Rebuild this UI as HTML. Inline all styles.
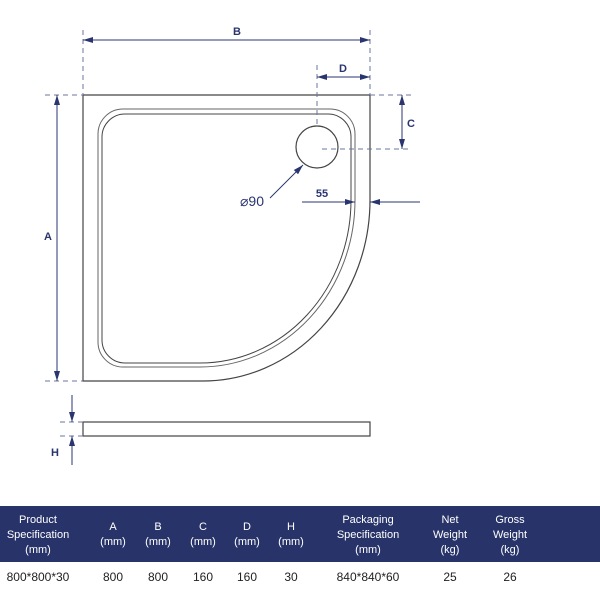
<!DOCTYPE html>
<html><head><style>
body{margin:0;background:#fff;width:600px;height:600px;overflow:hidden;font-family:"Liberation Sans",sans-serif;}
</style></head><body>
<svg width="600" height="600" viewBox="0 0 600 600" xmlns="http://www.w3.org/2000/svg" style="position:absolute;left:0;top:0">
<defs>
<marker id="ar" viewBox="0 0 10 6" refX="10" refY="3" markerWidth="14" markerHeight="6" markerUnits="userSpaceOnUse" orient="auto"><path d="M0,0 L10,3 L0,6 Z" fill="#2a3570"/></marker>
</defs>
<g fill="none" stroke="#444" stroke-width="1.2">
<path d="M83,95 H370 V200 A167,181 0 0 1 203,381 H83 Z"/>
<path d="M98,134 A25,25 0 0 1 123,109 H330 A25,25 0 0 1 355,134 V200 A155,167 0 0 1 200,367 H123 A25,25 0 0 1 98,342 Z" stroke="#666" stroke-width="1"/>
<path d="M102,137 A23,23 0 0 1 125,114 H328 A23,23 0 0 1 351,137 V200 A151,163 0 0 1 200,363 H125 A23,23 0 0 1 102,340 Z" stroke-width="1"/>
<circle cx="317" cy="147" r="21"/>
<rect x="83" y="422" width="287" height="14"/>
</g>
<g stroke="#6a74a0" stroke-width="1" stroke-dasharray="5,4" fill="none">
<line x1="83" y1="30" x2="83" y2="95"/>
<line x1="370" y1="30" x2="370" y2="95"/>
<line x1="317" y1="65" x2="317" y2="128"/>
<line x1="370" y1="95" x2="412" y2="95"/>
<line x1="322" y1="149" x2="412" y2="149"/>
<line x1="45" y1="95" x2="83" y2="95"/>
<line x1="45" y1="381" x2="83" y2="381"/>
<line x1="60" y1="422" x2="83" y2="422"/>
<line x1="60" y1="436" x2="83" y2="436"/>
</g>
<g stroke="#2a3570" stroke-width="1" fill="none">
<line x1="97" y1="40" x2="83" y2="40" marker-end="url(#ar)"/>
<line x1="97" y1="40" x2="370" y2="40" marker-end="url(#ar)"/>
<line x1="340" y1="77" x2="317" y2="77" marker-end="url(#ar)"/>
<line x1="340" y1="77" x2="370" y2="77" marker-end="url(#ar)"/>
<line x1="402" y1="120" x2="402" y2="95" marker-end="url(#ar)"/>
<line x1="402" y1="120" x2="402" y2="149" marker-end="url(#ar)"/>
<line x1="57" y1="240" x2="57" y2="95" marker-end="url(#ar)"/>
<line x1="57" y1="240" x2="57" y2="381" marker-end="url(#ar)"/>
<line x1="302" y1="202" x2="355" y2="202" marker-end="url(#ar)"/>
<line x1="420" y1="202" x2="370" y2="202" marker-end="url(#ar)"/>
<line x1="270" y1="198" x2="303" y2="165" marker-end="url(#ar)"/>
<line x1="72" y1="395" x2="72" y2="422" marker-end="url(#ar)"/>
<line x1="72" y1="465" x2="72" y2="436" marker-end="url(#ar)"/>
</g>
<g fill="#2a3570" font-size="11" font-weight="bold" text-anchor="middle">
<text x="237" y="35">B</text>
<text x="343" y="72">D</text>
<text x="411" y="127">C</text>
<text x="48" y="240">A</text>
<text x="55" y="456">H</text>
<text x="322" y="197">55</text>
<text x="252" y="206" font-size="14" font-weight="normal">⌀90</text>
</g>
<rect x="0" y="506" width="600" height="56" fill="#283469"/>
<g fill="#fff" font-size="11" text-anchor="middle">
<text x="38" y="523">Product</text><text x="38" y="538">Specification</text><text x="38" y="553">(mm)</text>
<text x="113" y="530">A</text><text x="113" y="545">(mm)</text>
<text x="158" y="530">B</text><text x="158" y="545">(mm)</text>
<text x="203" y="530">C</text><text x="203" y="545">(mm)</text>
<text x="247" y="530">D</text><text x="247" y="545">(mm)</text>
<text x="291" y="530">H</text><text x="291" y="545">(mm)</text>
<text x="368" y="523">Packaging</text><text x="368" y="538">Specification</text><text x="368" y="553">(mm)</text>
<text x="450" y="523">Net</text><text x="450" y="538">Weight</text><text x="450" y="553">(kg)</text>
<text x="510" y="523">Gross</text><text x="510" y="538">Weight</text><text x="510" y="553">(kg)</text>
</g>
<g fill="#222" font-size="12" text-anchor="middle">
<text x="38" y="581">800*800*30</text>
<text x="113" y="581">800</text><text x="158" y="581">800</text>
<text x="203" y="581">160</text><text x="247" y="581">160</text>
<text x="291" y="581">30</text><text x="368" y="581">840*840*60</text>
<text x="450" y="581">25</text><text x="510" y="581">26</text>
</g>
</svg>
</body></html>
